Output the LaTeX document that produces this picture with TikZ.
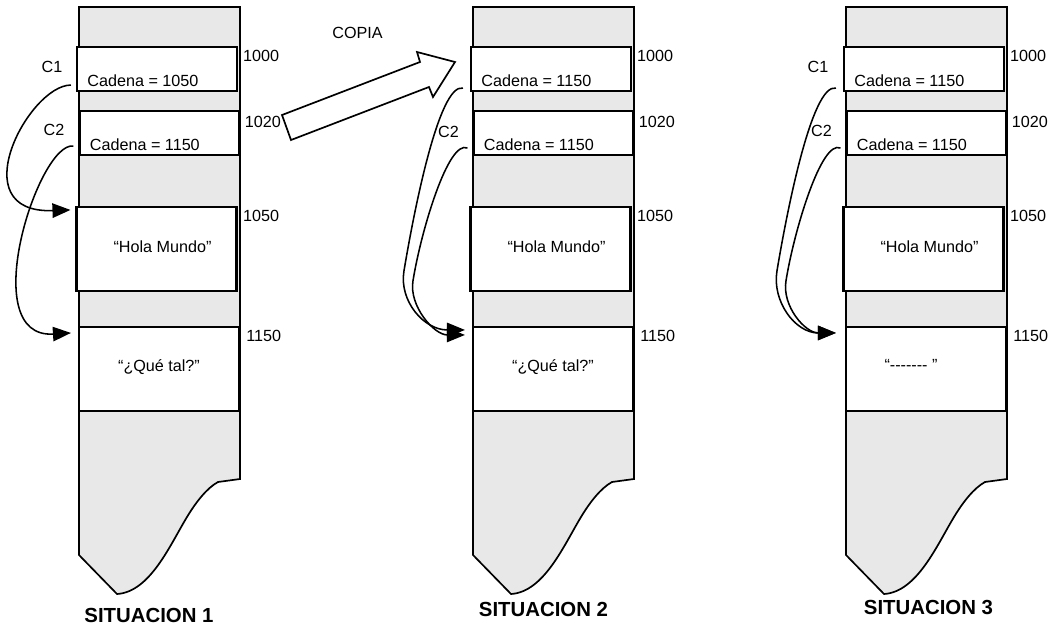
\documentclass[tikz,border=0pt]{standalone}
\usepackage{fontspec}
\setmainfont{Liberation Sans}
\usetikzlibrary{arrows.meta, positioning, calc}
\definecolor{memgray}{HTML}{E8E8E8}
\newcommand{\guion}{\mbox{-}}

\begin{document}
\begin{tikzpicture}[every node/.style={font=\fontsize{11.5}{13}\selectfont},
  cell/.style={rectangle, draw, fill=white, line width=1.5pt, minimum width=4cm, minimum height=1.1cm, inner sep=0pt},
  block/.style={cell, minimum height=2.1cm},
  addr/.style={anchor=west, inner sep=0pt},
  val/.style={anchor=base west, inner sep=0pt},
  ptr/.style={line width=1.1pt, -{Triangle[length=0.45cm, width=0.36cm]}},
  title/.style={font=\fontsize{14.5}{16}\selectfont\bfseries},
]
\useasboundingbox (0,0) rectangle (26.25,-15.65);
% memoria de cada situacion
\foreach \s/\dx/\va in {1/0/1050, 2/9.85/1150, 3/19.175/1150} {
  \begin{scope}[xshift=\dx cm]
    \draw[fill=memgray, line width=1.2pt] (1.975,-0.175) -- (6,-0.175) -- (6,-11.975) -- (5.45,-12.05)
      .. controls (5.175,-12.2) and (4.9,-12.55) .. (4.675,-12.925)
      .. controls (4.25,-13.625) and (3.75,-14.8) .. (2.925,-14.85) -- (1.975,-13.875) -- cycle;
    \node[cell] (cad1-\s) at (3.925,-1.725) {};
    \node[cell] (cad2-\s) at (3.9875,-3.325) {};
    \node[block] (hola-\s) at (3.9125,-6.225) {};
    \node[block] (que-\s) at (3.975,-9.225) {};
    \node[addr] (m1000-\s) at ([xshift=0.12cm, yshift=-0.25cm]cad1-\s.north east) {1000};
    \node[addr] (m1020-\s) at ([xshift=0.1cm, yshift=-0.3cm]cad2-\s.north east) {1020};
    \node[addr] (m1050-\s) at ([xshift=0.13cm, yshift=-0.25cm]hola-\s.north east) {1050};
    \node[addr] (m1150-\s) at ([xshift=0.15cm, yshift=-0.25cm]que-\s.north east) {1150};
    \node[val] (v1-\s) at ([xshift=0.28cm, yshift=0.15cm]cad1-\s.south west) {Cadena = \va};
    \node[val] (v2-\s) at ([xshift=0.28cm, yshift=0.15cm]cad2-\s.south west) {Cadena = 1150};
    \node (holat-\s) at ([xshift=0.15cm, yshift=0.05cm]hola-\s.center) {“Hola Mundo”};
  \end{scope}
}
\node (quet-1) at ([yshift=0.05cm]que-1.center) {“¿Qué tal?”};
\node (quet-2) at ([yshift=0.05cm]que-2.center) {“¿Qué tal?”};
\node (quet-3) at ([xshift=-0.375cm, yshift=0.1cm]que-3.center) {“\guion\guion\guion\guion\guion\guion\guion\ ”};

\node (lc1-1) at (1.3,-1.675) {C1};
\node (lc2-1) at (1.35,-3.25) {C2};
\node (lc2-2) at (11.2125,-3.3) {C2};
\node (lc1-3) at (20.45,-1.675) {C1};
\node (lc2-3) at (20.5375,-3.275) {C2};

\node[title] (sit1) at (3.725,-15.375) {SITUACION 1};
\node[title] (sit2) at (13.5875,-15.225) {SITUACION 2};
\node[title] (sit3) at (23.2125,-15.175) {SITUACION 3};

% copia de la cadena
\node (copia) at (8.9375,-0.8125) {COPIA};
\draw[line width=1.2pt, fill=white] (7.05,-2.875) -- (10.5,-1.55) -- (10.425,-1.3) -- (11.375,-1.55)
  -- (10.825,-2.425) -- (10.725,-2.175) -- (7.275,-3.5) -- cycle;

% punteros situacion 1
\draw[ptr] ([xshift=-0.125cm, yshift=0.175cm]cad1-1.south west) .. controls +(-1.05,0) and +(-2.75,-0.1) .. ([xshift=-0.125cm, yshift=-0.1cm]hola-1.north west);
\draw[ptr] ([xshift=-0.125cm, yshift=0.25cm]cad2-1.south west) .. controls +(-0.875,0.125) and +(-2.4,-0.15) .. ([xshift=-0.175cm, yshift=-0.175cm]que-1.north west);

% punteros situacion 2
\coordinate (b1-2) at ([xshift=-1.65cm, yshift=-4.475cm]cad1-2.south west);
\coordinate (b2-2) at ([xshift=-1.4875cm, yshift=-3.125cm]cad2-2.south west);
\draw[ptr] ([xshift=-0.175cm, yshift=0.1cm]cad1-2.south west) .. controls +(-0.6,0.125) and +(0.25,1.5) .. (b1-2)
  .. controls +(-0.125,-0.75) and +(-1.025,0) .. ([xshift=-0.175cm, yshift=-0.1cm]que-2.north west);
\draw[ptr] ([xshift=-0.125cm, yshift=0.2cm]cad2-2.south west) .. controls +(-0.475,0.225) and +(0.2,1.25) .. (b2-2)
  .. controls +(-0.1,-0.625) and +(-0.775,0) .. ([xshift=-0.175cm, yshift=-0.225cm]que-2.north west);

% punteros situacion 3
\coordinate (b1-3) at ([xshift=-1.65cm, yshift=-4.475cm]cad1-3.south west);
\coordinate (b2-3) at ([xshift=-1.4875cm, yshift=-3.125cm]cad2-3.south west);
\draw[ptr] ([xshift=-0.175cm, yshift=0.1cm]cad1-3.south west) .. controls +(-0.6,0.125) and +(0.25,1.5) .. (b1-3)
  .. controls +(-0.125,-0.75) and +(-1.025,0) .. ([xshift=-0.225cm, yshift=-0.175cm]que-3.north west);
\draw[ptr] ([xshift=-0.125cm, yshift=0.2cm]cad2-3.south west) .. controls +(-0.475,0.225) and +(0.2,1.25) .. (b2-3)
  .. controls +(-0.1,-0.625) and +(-0.775,0) .. ([xshift=-0.225cm, yshift=-0.175cm]que-3.north west);
\end{tikzpicture}
\end{document}
